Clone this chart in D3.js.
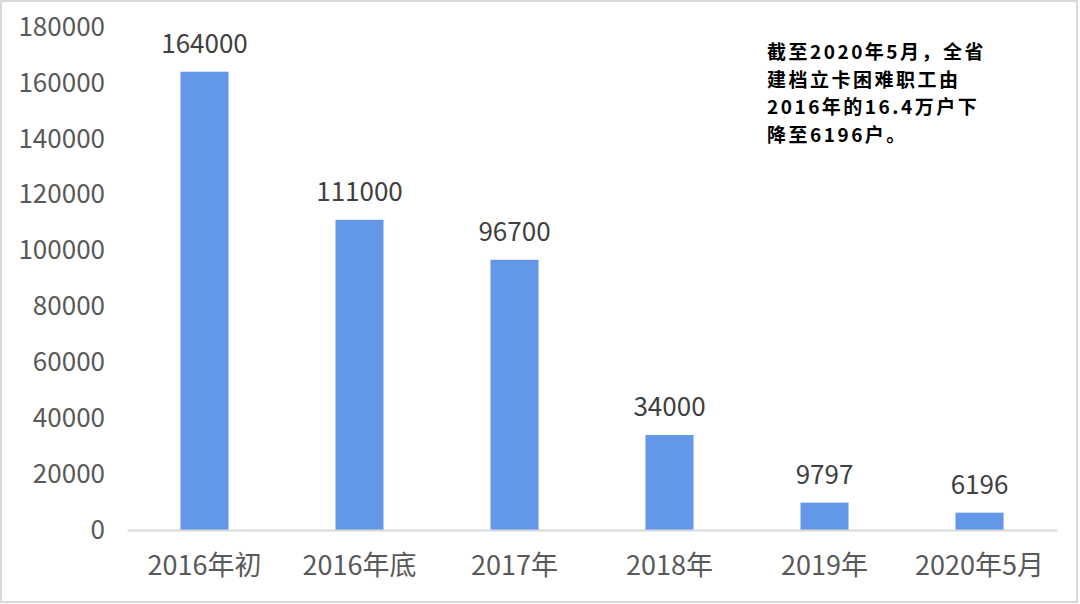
<!DOCTYPE html>
<html>
<head>
<meta charset="utf-8">
<script src="https://cdn.jsdelivr.net/npm/d3@7"></script>
<style>
  html, body { margin: 0; padding: 0; background: #fff; }
  svg { display: block; font-family: "Noto Sans CJK SC", "Noto Sans", sans-serif; }
</style>
</head>
<body>
<svg id="chart"></svg>
<script>
const width = 1080;
const height = 604;
const margin = { top: 27, right: 23, bottom: 74, left: 127 };

const categories = ['2016年初', '2016年底', '2017年', '2018年', '2019年', '2020年5月'];
const values = [164000, 111000, 96700, 34000, 9797, 6196];
const yTicks = [0, 20000, 40000, 60000, 80000, 100000, 120000, 140000, 160000, 180000];
const note = ['截至2020年5月，全省', '建档立卡困难职工由', '2016年的16.4万户下', '降至6196户。'];

const svg = d3.select('#chart').attr('width', width).attr('height', height);

// frame
svg.append('rect')
  .attr('x', 1).attr('y', 1)
  .attr('width', width - 4).attr('height', height - 3)
  .attr('fill', '#fff')
  .attr('stroke', '#d9d9d9')
  .attr('stroke-width', 2);

const x = d3.scaleBand()
  .domain(categories)
  .range([margin.left, width - margin.right])
  .paddingInner(0.69)
  .paddingOuter(0.345);

const y = d3.scaleLinear()
  .domain([0, 180000])
  .range([height - margin.bottom, margin.top]);

// bars
svg.append('g')
  .attr('fill', '#6397e8')
  .selectAll('rect')
  .data(values)
  .join('rect')
  .attr('x', (d, i) => x(categories[i]))
  .attr('width', x.bandwidth())
  .attr('y', d => y(d))
  .attr('height', d => y(0) - y(d));

// value labels
svg.append('g')
  .attr('fill', '#404040')
  .attr('font-size', 26)
  .attr('text-anchor', 'middle')
  .selectAll('text')
  .data(values)
  .join('text')
  .attr('x', (d, i) => x(categories[i]) + x.bandwidth() / 2)
  .attr('y', d => y(d) - 19)
  .text(d => d);

// x axis
const xAxis = g => g
  .attr('transform', `translate(0,${y(0)})`)
  .call(d3.axisBottom(x).tickSize(0).tickPadding(26).tickSizeOuter(0))
  .call(g => g.select('.domain').attr('stroke', '#d9d9d9').attr('stroke-width', 2))
  .call(g => g.selectAll('.tick text')
    .attr('fill', '#595959')
    .attr('font-size', 27)
    .attr('font-family', '"Noto Sans CJK SC", sans-serif'));

// y axis
const yAxis = g => g
  .attr('transform', `translate(${margin.left},0)`)
  .call(d3.axisLeft(y).tickValues(yTicks).tickSize(0).tickPadding(22).tickFormat(d => d))
  .call(g => g.select('.domain').remove())
  .call(g => g.selectAll('.tick text')
    .attr('fill', '#595959')
    .attr('font-size', 26)
    .attr('font-family', '"Noto Sans CJK SC", sans-serif'));

svg.append('g').call(xAxis);
svg.append('g').call(yAxis);

// annotation
svg.append('text')
  .attr('fill', '#000')
  .attr('font-size', 19)
  .attr('font-weight', 'bold')
  .attr('letter-spacing', 2.5)
  .selectAll('tspan')
  .data(note)
  .join('tspan')
  .attr('x', 767)
  .attr('y', (d, i) => 59 + i * 27.5)
  .text(d => d);
</script>
</body>
</html>
